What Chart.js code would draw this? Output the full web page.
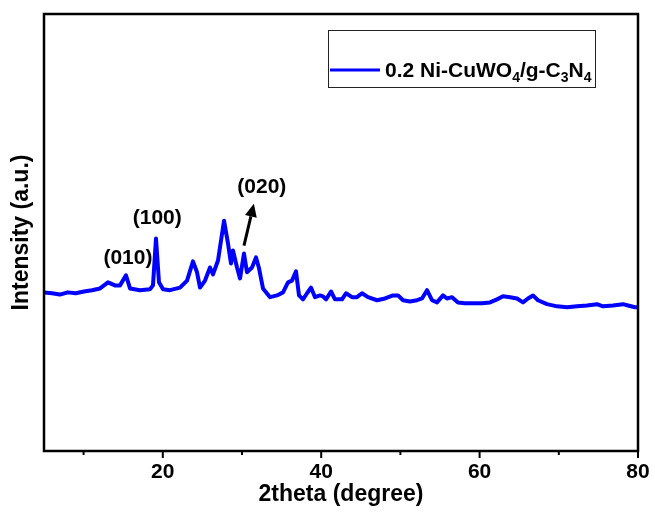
<!DOCTYPE html>
<html>
<head>
<meta charset="utf-8">
<script src="https://cdn.jsdelivr.net/npm/chart.js@4.4.1/dist/chart.umd.min.js"></script>
<style>
html,body{margin:0;padding:0;background:#fff;}
#wrap{width:655px;height:513px;}
</style>
</head>
<body>
<div id="wrap"><canvas id="c" width="655" height="513"></canvas></div>
<script>
// ---- data ----
const twoTheta = [5.0,6.0,7.0,8.0,9.0,10.05,11.06,12.07,13.08,13.96,14.6,15.35,15.86,17.12,18.38,18.76,19.14,19.52,20.03,20.9,22.17,23.06,23.81,24.32,24.7,25.33,25.96,26.34,26.97,27.73,28.23,28.61,28.86,29.37,29.75,30.25,30.63,31.26,31.77,32.15,32.65,33.54,34.42,35.18,35.81,36.31,36.82,37.2,37.7,38.21,38.71,39.22,39.85,40.23,40.61,41.24,41.74,42.63,43.13,43.89,44.52,45.15,45.91,47.05,48.06,49.07,49.7,50.33,51.21,52.1,52.73,53.36,53.99,54.62,55.38,55.88,56.52,57.27,58.16,59.17,60.3,61.31,62.2,62.95,63.84,64.72,65.48,66.11,66.74,67.37,68.51,69.77,71.04,72.3,73.56,74.82,75.58,76.84,78.1,78.74,79.62,80.0];
const intensity = [363,361,358,363,361,365,368,372,386,379,379,402,372,368,370,379,486,386,370,368,374,390,434,409,374,390,420,404,436,527,475,429,459,420,395,452,409,420,443,418,372,352,356,363,386,390,411,356,347,361,374,352,356,354,347,365,347,347,361,352,352,361,352,345,349,356,356,345,342,345,349,368,345,340,356,349,352,340,338,338,338,340,347,354,352,349,340,349,356,345,336,331,329,331,333,336,331,333,336,333,329,329];
const seriesName = "0.2 Ni-CuWO4/g-C3N4";
const legendParts = [["0.2 Ni-CuWO",false],["4",true],["/g-C",false],["3",true],["N",false],["4",true]];
const xTickValues = [10,20,30,40,50,60,70,80];
const xTickLabels = ["","20","","40","","60","","80"];
const annotationLabels = ["(010)","(100)","(020)"];
const annotationX = [15.6,19.3,32.5];
const annotationY = [441,532,603];
const arrowFrom = [30.25,470];
const arrowTo = [31.5,566];

const FONT = "'Liberation Sans', Arial, sans-serif";

const framePlugin = {
  id:'frame',
  afterDatasetsDraw(chart){
    const {ctx, scales:{x,y}} = chart;
    ctx.save();
    ctx.fillStyle='#000';
    ctx.font = "bold 21px "+FONT;
    ctx.textAlign='center'; ctx.textBaseline='middle';
    annotationLabels.forEach((t,i)=>{
      ctx.fillText(t, x.getPixelForValue(annotationX[i]), y.getPixelForValue(annotationY[i]));
    });
    const x1=x.getPixelForValue(arrowFrom[0]), y1=y.getPixelForValue(arrowFrom[1]);
    const x2=x.getPixelForValue(arrowTo[0]), y2=y.getPixelForValue(arrowTo[1]);
    const ang=Math.atan2(y2-y1,x2-x1);
    const hl=13, hw=6;
    const bx=x2-hl*Math.cos(ang), by=y2-hl*Math.sin(ang);
    ctx.strokeStyle='#000'; ctx.lineWidth=3;
    ctx.beginPath(); ctx.moveTo(x1,y1); ctx.lineTo(bx,by); ctx.stroke();
    ctx.beginPath();
    ctx.moveTo(x2,y2);
    ctx.lineTo(bx+hw*Math.sin(ang), by-hw*Math.cos(ang));
    ctx.lineTo(bx-hw*Math.sin(ang), by+hw*Math.cos(ang));
    ctx.closePath(); ctx.fill();
    ctx.restore();
  },
  afterDraw(chart){
    const {ctx, chartArea:a, scales:{x}} = chart;
    ctx.save();
    ctx.strokeStyle='#000'; ctx.lineWidth=2.5;
    ctx.strokeRect(a.left, a.top, a.right-a.left, a.bottom-a.top);
    ctx.lineWidth=2;
    xTickValues.forEach(v=>{
      const px=x.getPixelForValue(v);
      const len = (v%20===0)?7:4;
      ctx.beginPath(); ctx.moveTo(px,a.bottom); ctx.lineTo(px,a.bottom+len); ctx.stroke();
    });
    const lx=328, ly=30, lw=267, lh=57;
    ctx.lineWidth=1; ctx.strokeStyle='#222';
    ctx.strokeRect(lx+0.5, ly+0.5, lw, lh);
    ctx.strokeStyle='#0000ff'; ctx.lineWidth=3;
    ctx.beginPath(); ctx.moveTo(lx+2, ly+40); ctx.lineTo(lx+52, ly+40); ctx.stroke();
    let tx=lx+57;
    const base=ly+47;
    ctx.fillStyle='#000'; ctx.textAlign='left'; ctx.textBaseline='alphabetic';
    legendParts.forEach(([t,sub])=>{
      ctx.font = sub ? "bold 14px "+FONT : "bold 21px "+FONT;
      ctx.fillText(t, tx, sub?base+5:base);
      tx += ctx.measureText(t).width;
    });
    ctx.restore();
  }
};

new Chart(document.getElementById('c'), {
  type:'line',
  data:{
    datasets:[{
      label: seriesName,
      data: twoTheta.map((v,i)=>({x:v, y:intensity[i]})),
      borderColor:'#0000ff',
      borderWidth:4,
      borderJoinStyle:'round',
      borderCapStyle:'round',
      pointRadius:0,
      tension:0,
      fill:false
    }]
  },
  options:{
    responsive:false,
    animation:false,
    devicePixelRatio:1,
    layout:{padding:{top:14,right:17,left:0,bottom:0}},
    plugins:{legend:{display:false}, tooltip:{enabled:false}},
    scales:{
      x:{
        type:'linear', min:5, max:80,
        afterBuildTicks(s){ s.ticks = xTickValues.map(v=>({value:v})); },
        afterFit(s){ s.height = 62; },
        ticks:{
          autoSkip:false, maxRotation:0, padding:2, color:'#000',
          font:{family:FONT, size:21, weight:'bold'},
          callback(v){ const i=xTickValues.indexOf(v); return i>=0?xTickLabels[i]:''; }
        },
        grid:{display:true, drawOnChartArea:false, drawTicks:true, tickLength:7, tickColor:'rgba(0,0,0,0)'},
        border:{display:false},
        title:{display:true, text:'2theta (degree)', color:'#000', font:{family:FONT, size:23, weight:'bold'}, padding:{top:0,bottom:5}}
      },
      y:{
        min:0, max:1000,
        afterFit(s){ s.width = 44; },
        ticks:{display:false},
        grid:{display:false},
        border:{display:false},
        title:{display:true, text:'Intensity (a.u.)', color:'#000', font:{family:FONT, size:23, weight:'bold'}, padding:{top:8,bottom:0}}
      }
    }
  },
  plugins:[framePlugin]
});
</script>
</body>
</html>
